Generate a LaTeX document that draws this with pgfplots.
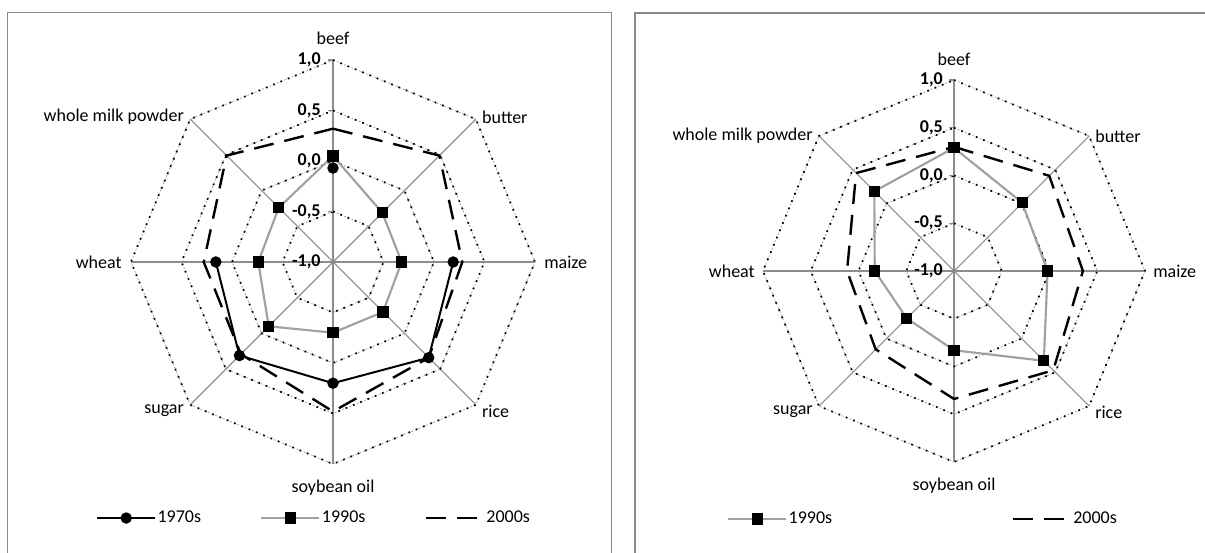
\documentclass[border=0pt]{standalone}
\usepackage{pgfplots}
\usepackage{pgfplotstable}
\pgfplotsset{compat=1.18}
\usepackage{fontspec}
\setmainfont{Carlito}
\newcommand\lblfont{\fontsize{13.5bp}{16bp}\selectfont}
\definecolor{boxgray}{HTML}{8A8A8A}
\definecolor{spokegray}{HTML}{8C8C8C}
\definecolor{ringgray}{HTML}{9A9A9A}
\definecolor{ninetygray}{HTML}{A0A0A0}

% angle: beef 90, butter 45, maize 0, rice -45, soybean oil -90, sugar -135, wheat 180, whole milk powder 135
\pgfplotstableread{
ang v
0 0.19
-45 0.34
-90 0.20
-135 0.31
180 0.16
}\LseventiesA
\pgfplotstableread{
ang v
90 -0.07
}\LseventiesB
\pgfplotstableread{
ang v
90 0.05
45 -0.31
0 -0.32
-45 -0.30
-90 -0.30
-135 -0.10
180 -0.26
135 -0.24
90 0.05
}\Lnineties
\pgfplotstableread{
ang v
90 0.32
45 0.49
0 0.28
-45 0.34
-90 0.48
-135 0.29
180 0.28
135 0.49
90 0.32
}\Lthousands
\pgfplotstableread{
ang v
90 0.29
45 0.01
0 -0.02
-45 0.33
-90 -0.17
-135 -0.30
180 -0.17
135 0.18
90 0.29
}\Rnineties
\pgfplotstableread{
ang v
90 0.30
45 0.41
0 0.35
-45 0.47
-90 0.34
-135 0.16
180 0.12
135 0.45
90 0.30
}\Rthousands

\pgfplotsset{
  radar/.style={hide axis, clip=false, xmin=-2.4, xmax=2.4, ymin=-2.4, ymax=2.4,
    legend cell align=left,
    legend image code/.code={\draw[mark repeat=2,mark phase=2] plot coordinates {(0bp,0bp)(21.75bp,0bp)(43.5bp,0bp)};}},
  spoke/.style={forget plot, data cs=polar, draw=spokegray, line width=0.8bp},
  ringthin/.style={forget plot, data cs=polar, draw=ringgray, line width=0.5bp, dash pattern=on 1.5bp off 1.5bp},
  ringdot/.style={forget plot, data cs=polar, draw=black, line width=1.3bp, dash pattern=on 1.3bp off 4.6bp},
  tickmk/.style={forget plot, draw=spokegray, line width=0.8bp},
  s70/.style={black, line width=1.5bp, mark=*, mark size=3.5bp, mark options={solid}, data cs=polar},
  s90/.style={ninetygray, line width=1.6bp, mark=square*, mark size=3.4bp, mark options={solid, fill=black, draw=black}, data cs=polar},
  s00/.style={black, line width=1.8bp, dash pattern=on 15bp off 8.25bp, data cs=polar},
}
\tikzset{
  ticklbl/.style={anchor=east, inner sep=0pt, font=\lblfont\bfseries},
  catlbl/.style={inner sep=0pt, font=\lblfont},
}

\begin{document}
\begin{tikzpicture}
\useasboundingbox (0,0) rectangle (903.75bp,414.75bp);
\draw[boxgray, line width=1.1bp] (5.625bp,-10bp) -- (5.625bp,405.5bp) -- (458.8bp,405.5bp) -- (458.8bp,-10bp);
\draw[boxgray, line width=1.1bp] (476.25bp,-10bp) -- (476.25bp,405bp) -- (910bp,405bp);

% ---------------- left chart ----------------
\begin{axis}[radar, at={(249.75bp,218.25bp)}, anchor=origin, x=75.75bp, y=75.75bp,
  legend columns=3,
  legend style={draw=none, fill=none, inner sep=0pt, at={(axis cs:-2.347,-2.535)}, anchor=west,
    nodes={inner sep=1bp, font=\lblfont},
    /tikz/every even column/.append style={column sep=43.5bp}}]
\addplot[spoke] coordinates {(90,2) (270,2)};
\addplot[spoke] coordinates {(45,2) (225,2)};
\addplot[spoke] coordinates {(0,2) (180,2)};
\addplot[spoke] coordinates {(135,2) (315,2)};
\pgfplotsinvokeforeach{0.5,1,1.5,2}{
  \addplot[ringthin] coordinates {(90,#1)(45,#1)(0,#1)(-45,#1)(-90,#1)(-135,#1)(180,#1)(135,#1)(90,#1)};
  \addplot[ringdot] coordinates {(90,#1)(45,#1)(0,#1)(-45,#1)(-90,#1)(-135,#1)(180,#1)(135,#1)(90,#1)};
  \addplot[tickmk] coordinates {(-0.05,#1) (0,#1)};
}
\addplot[tickmk] coordinates {(-0.05,0) (0,0)};
\addplot[s70] table[x=ang, y expr=\thisrow{v}+1] {\LseventiesA};
\addlegendentry{1970s}
\addplot[s70, forget plot, only marks] table[x=ang, y expr=\thisrow{v}+1] {\LseventiesB};
\addplot[s90] table[x=ang, y expr=\thisrow{v}+1] {\Lnineties};
\addlegendentry{1990s}
\addplot[s00] table[x=ang, y expr=\thisrow{v}+1] {\Lthousands};
\addlegendentry{2000s}
\node[ticklbl] at (axis cs:-0.12,2) {1,0};
\node[ticklbl] at (axis cs:-0.12,1.5) {0,5};
\node[ticklbl] at (axis cs:-0.12,1) {0,0};
\node[ticklbl] at (axis cs:-0.12,0.5) {-0,5};
\node[ticklbl] at (axis cs:-0.12,0) {-1,0};
\node[catlbl, anchor=base] at (axis cs:0,2.15) {beef};
\node[catlbl, anchor=west] at (axis cs:1.474,1.434) {butter};
\node[catlbl, anchor=west] at (axis cs:2.09,0) {maize};
\node[catlbl, anchor=west] at (axis cs:1.474,-1.474) {rice};
\node[catlbl, anchor=center] at (axis cs:0,-2.235) {soybean oil};
\node[catlbl, anchor=east] at (axis cs:-1.474,-1.474) {sugar};
\node[catlbl, anchor=east] at (axis cs:-2.09,0) {wheat};
\node[catlbl, anchor=east] at (axis cs:-1.474,1.434) {whole milk powder};
\end{axis}

% ---------------- right chart ----------------
\begin{axis}[radar, at={(715.5bp,211.5bp)}, anchor=origin, x=71.625bp, y=71.625bp,
  legend columns=2,
  legend style={draw=none, fill=none, inner sep=0pt, at={(axis cs:-2.377,-2.597)}, anchor=west,
    nodes={inner sep=1bp, font=\lblfont},
    /tikz/every even column/.append style={column sep=133.5bp}}]
\addplot[spoke] coordinates {(90,2) (270,2)};
\addplot[spoke] coordinates {(45,2) (225,2)};
\addplot[spoke] coordinates {(0,2) (180,2)};
\addplot[spoke] coordinates {(135,2) (315,2)};
\pgfplotsinvokeforeach{0.5,1,1.5,2}{
  \addplot[ringthin] coordinates {(90,#1)(45,#1)(0,#1)(-45,#1)(-90,#1)(-135,#1)(180,#1)(135,#1)(90,#1)};
  \addplot[ringdot] coordinates {(90,#1)(45,#1)(0,#1)(-45,#1)(-90,#1)(-135,#1)(180,#1)(135,#1)(90,#1)};
  \addplot[tickmk] coordinates {(-0.05,#1) (0,#1)};
}
\addplot[tickmk] coordinates {(-0.05,0) (0,0)};
\addplot[s90] table[x=ang, y expr=\thisrow{v}+1] {\Rnineties};
\addlegendentry{1990s}
\addplot[s00] table[x=ang, y expr=\thisrow{v}+1] {\Rthousands};
\addlegendentry{2000s}
\node[ticklbl] at (axis cs:-0.115,2) {1,0};
\node[ticklbl] at (axis cs:-0.115,1.5) {0,5};
\node[ticklbl] at (axis cs:-0.115,1) {0,0};
\node[ticklbl] at (axis cs:-0.115,0.5) {-0,5};
\node[ticklbl] at (axis cs:-0.115,0) {-1,0};
\node[catlbl, anchor=base] at (axis cs:0,2.15) {beef};
\node[catlbl, anchor=west] at (axis cs:1.477,1.414) {butter};
\node[catlbl, anchor=west] at (axis cs:2.084,0) {maize};
\node[catlbl, anchor=west] at (axis cs:1.477,-1.477) {rice};
\node[catlbl, anchor=center] at (axis cs:0,-2.25) {soybean oil};
\node[catlbl, anchor=east] at (axis cs:-1.477,-1.477) {sugar};
\node[catlbl, anchor=east] at (axis cs:-2.084,0) {wheat};
\node[catlbl, anchor=east] at (axis cs:-1.477,1.414) {whole milk powder};
\end{axis}
\end{tikzpicture}
\end{document}
